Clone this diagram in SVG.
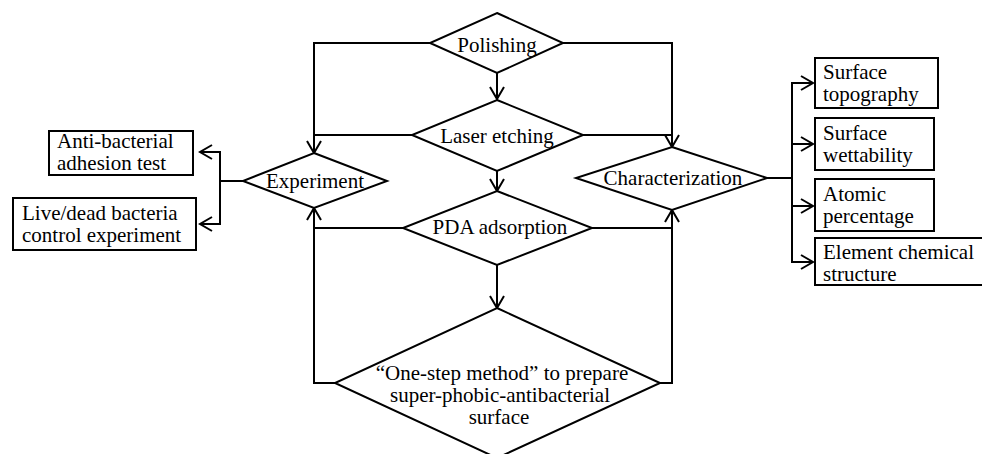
<svg xmlns="http://www.w3.org/2000/svg" width="982" height="454" viewBox="0 0 982 454">
<defs>
<marker id="arr" markerUnits="userSpaceOnUse" markerWidth="20" markerHeight="20" viewBox="-14 -10 16 20" refX="0" refY="0" orient="auto">
<path d="M-12,-7 L0,0 L-12,7" fill="none" stroke="#000" stroke-width="2"/>
</marker>
</defs>
<style>
.s{fill:#fff;stroke:#000;stroke-width:2}
.c{fill:none;stroke:#000;stroke-width:2;marker-end:url(#arr)}
.l{fill:none;stroke:#000;stroke-width:2}
text{font-family:"Liberation Serif","Times New Roman",serif;font-size:21px;fill:#000}
.m{text-anchor:middle}
</style>
<rect width="982" height="454" fill="#fff"/>
<g id="connectors">
<path class="l" d="M430,43 H314 V135"/>
<path class="l" d="M563,43 H672 V135"/>
<path class="c" d="M497,73 V99"/>
<path class="c" d="M412,135 H314 V153"/>
<path class="c" d="M583,135 H672 V147"/>
<path class="c" d="M497,171 V191"/>
<path class="c" d="M403,228 H314 V208"/>
<path class="c" d="M592,228 H672 V210"/>
<path class="c" d="M497,265 V308"/>
<path class="l" d="M335,383 H314 V228"/>
<path class="l" d="M660,383 H672 V228"/>
<path class="l" d="M243,181 H220"/>
<path class="c" d="M220,181 V152 H200"/>
<path class="c" d="M220,181 V224 H200"/>
<path class="l" d="M767,178 H792"/>
<path class="c" d="M792,178 V83 H813"/>
<path class="c" d="M792,178 V144 H813"/>
<path class="c" d="M792,178 V206 H813"/>
<path class="c" d="M792,178 V262 H813"/>
</g>
<g id="polishing">
<polygon class="s" points="497,13 563,43 497,73 430,43"/>
<text class="m" x="497" y="52">Polishing</text>
</g>
<g id="laser">
<polygon class="s" points="497,100 583,135 497,171 412,135"/>
<text class="m" x="497" y="143">Laser etching</text>
</g>
<g id="experiment">
<polygon class="s" points="314,153 387,181 314,208 243,181"/>
<text class="m" x="315" y="188">Experiment</text>
</g>
<g id="pda">
<polygon class="s" points="497,191 592,228 497,265 403,228"/>
<text class="m" x="500" y="234">PDA adsorption</text>
</g>
<g id="characterization">
<polygon class="s" points="672,147 767,178 672,210 576,178"/>
<text class="m" x="673" y="185">Characterization</text>
</g>
<g id="onestep">
<polygon class="s" points="497,308 660,383 497,458 335,383"/>
<text class="m" x="502" y="380">“One-step method” to prepare</text>
<text class="m" x="500" y="402">super-phobic-antibacterial</text>
<text class="m" x="499" y="424">surface</text>
</g>
<g id="antibacterial">
<rect class="s" x="49" y="131" width="144" height="44"/>
<text x="57" y="148">Anti-bacterial</text>
<text x="57" y="170">adhesion test</text>
</g>
<g id="livedead">
<rect class="s" x="13" y="198" width="183" height="52"/>
<text x="22" y="220">Live/dead bacteria</text>
<text x="22" y="242">control experiment</text>
</g>
<g id="topography">
<rect class="s" x="815" y="58" width="123" height="50"/>
<text x="823" y="79">Surface</text>
<text x="823" y="101">topography</text>
</g>
<g id="wettability">
<rect class="s" x="815" y="118" width="119" height="52"/>
<text x="823" y="140">Surface</text>
<text x="823" y="162">wettability</text>
</g>
<g id="atomic">
<rect class="s" x="815" y="179" width="119" height="52"/>
<text x="823" y="201">Atomic</text>
<text x="823" y="223">percentage</text>
</g>
<g id="element">
<rect class="s" x="815" y="238" width="175" height="47"/>
<text x="823" y="259">Element chemical</text>
<text x="823" y="281">structure</text>
</g>
</svg>
